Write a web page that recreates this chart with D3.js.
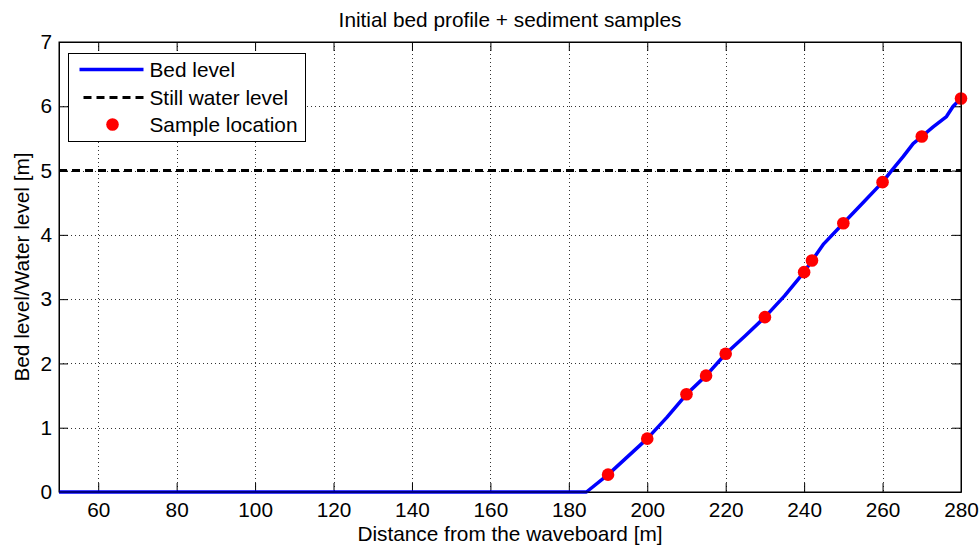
<!DOCTYPE html>
<html>
<head>
<meta charset="utf-8">
<script src="https://cdn.jsdelivr.net/npm/d3@7"></script>
<style>
  body { margin: 0; background: #fff; }
  text { font-family: "Liberation Sans", Arial, sans-serif; }
</style>
</head>
<body>
<div id="chart"></div>
<script>
// bed profile (distance [m], level [m])
const bedX = [50, 184.5, 190, 195, 200, 205, 210, 215, 220, 225, 230, 235, 240, 242, 245, 250, 255, 260, 262.3, 265.3, 267.8, 270, 272.9, 276.3, 278, 280]
const bedY = [0, 0, 0.27, 0.55, 0.83, 1.16, 1.52, 1.81, 2.15, 2.43, 2.72, 3.05, 3.42, 3.6, 3.86, 4.18, 4.5, 4.82, 5.0, 5.22, 5.42, 5.53, 5.68, 5.84, 6.0, 6.12]

// sediment samples
const sampleX = [190, 200, 210, 215, 220, 230, 240, 242, 250, 260, 270, 280]
const sampleY = [0.27, 0.83, 1.52, 1.81, 2.15, 2.72, 3.42, 3.6, 4.18, 4.82, 5.53, 6.12]

const stillWater = 5
const xTicks = [60, 80, 100, 120, 140, 160, 180, 200, 220, 240, 260, 280]
const yTicks = [0, 1, 2, 3, 4, 5, 6, 7]
const legendLabels = ["Bed level", "Still water level", "Sample location"]

const width = 980, height = 549
const margin = { top: 42, right: 19, bottom: 57, left: 59 }
const fontSize = 20.8

const svg = d3.select("#chart").append("svg")
  .attr("width", width)
  .attr("height", height)

const x = d3.scaleLinear().domain([50, 280]).range([margin.left, width - margin.right])
const y = d3.scaleLinear().domain([0, 7]).range([height - margin.bottom, margin.top])

const x0 = x.range()[0], x1 = x.range()[1]
const y0 = y.range()[0], y1 = y.range()[1]

// grid
const grid = svg.append("g").attr("stroke", "#333").attr("stroke-width", 1)
  .attr("stroke-dasharray", "1,3")
grid.selectAll("line.gx").data(xTicks).join("line")
  .attr("x1", d => Math.round(x(d)) + 0.5).attr("x2", d => Math.round(x(d)) + 0.5)
  .attr("y1", y1).attr("y2", y0)
grid.selectAll("line.gy").data(yTicks.slice(1, -1)).join("line")
  .attr("class", "gy")
  .attr("y1", d => Math.round(y(d)) + 0.5).attr("y2", d => Math.round(y(d)) + 0.5)
  .attr("x1", x0).attr("x2", x1)

// axes, ticks inside, box on all sides
const tick = 9
const fmt = d3.format("d")
svg.append("g").attr("transform", `translate(0,${y0})`)
  .call(d3.axisBottom(x).tickValues(xTicks).tickSizeInner(-tick).tickSizeOuter(0).tickPadding(10).tickFormat(fmt))
svg.append("g").attr("transform", `translate(0,${y1})`)
  .call(d3.axisTop(x).tickValues(xTicks).tickSizeInner(-tick).tickSizeOuter(0).tickFormat(""))
svg.append("g").attr("transform", `translate(${x0},0)`)
  .call(d3.axisLeft(y).tickValues(yTicks).tickSizeInner(-tick).tickSizeOuter(0).tickPadding(7).tickFormat(fmt))
svg.append("g").attr("transform", `translate(${x1},0)`)
  .call(d3.axisRight(y).tickValues(yTicks).tickSizeInner(-tick).tickSizeOuter(0).tickFormat(""))

svg.selectAll(".tick text").attr("font-size", fontSize).attr("fill", "#000")
svg.selectAll(".domain").attr("stroke", "#000")
svg.selectAll(".tick line").attr("stroke", "#000")

// still water level
svg.append("line")
  .attr("x1", x0).attr("x2", x1)
  .attr("y1", y(stillWater)).attr("y2", y(stillWater))
  .attr("stroke", "#000").attr("stroke-width", 3)
  .attr("stroke-dasharray", "8,5")

// bed level
const bed = bedX.map((d, i) => [d, bedY[i]])
svg.append("path").datum(bed)
  .attr("fill", "none").attr("stroke", "#0000ff").attr("stroke-width", 3.5)
  .attr("stroke-linejoin", "round")
  .attr("d", d3.line().x(d => x(d[0])).y(d => y(d[1])))

// samples
svg.append("g").selectAll("circle").data(sampleX).join("circle")
  .attr("cx", d => x(d))
  .attr("cy", (d, i) => y(sampleY[i]))
  .attr("r", 6.3)
  .attr("fill", "#ff0000")

// box
svg.append("rect")
  .attr("x", x0).attr("y", y1).attr("width", x1 - x0).attr("height", y0 - y1)
  .attr("fill", "none").attr("stroke", "#000")

// titles
svg.append("text").attr("x", (x0 + x1) / 2).attr("y", 27)
  .attr("text-anchor", "middle").attr("font-size", fontSize).text("Initial bed profile + sediment samples")
svg.append("text").attr("x", (x0 + x1) / 2).attr("y", 541)
  .attr("text-anchor", "middle").attr("font-size", fontSize).text("Distance from the waveboard [m]")
svg.append("text")
  .attr("transform", `translate(29,${(y0 + y1) / 2}) rotate(-90)`)
  .attr("text-anchor", "middle").attr("font-size", fontSize).text("Bed level/Water level [m]")

// legend
const lg = svg.append("g").attr("transform", "translate(68.5,53.5)")
lg.append("rect").attr("width", 237).attr("height", 88)
  .attr("fill", "#fff").attr("stroke", "#000")
const rowY = [16, 44, 71]
lg.selectAll("text").data(legendLabels).join("text")
  .attr("x", 81).attr("y", (d, i) => rowY[i] + 7.5)
  .attr("font-size", fontSize).text(d => d)
lg.append("line").attr("x1", 11).attr("x2", 75).attr("y1", rowY[0]).attr("y2", rowY[0])
  .attr("stroke", "#0000ff").attr("stroke-width", 3.5)
lg.append("line").attr("x1", 15).attr("x2", 75).attr("y1", rowY[1]).attr("y2", rowY[1])
  .attr("stroke", "#000").attr("stroke-width", 3).attr("stroke-dasharray", "8,5")
lg.append("circle").attr("cx", 44).attr("cy", rowY[2]).attr("r", 6.3).attr("fill", "#ff0000")
</script>
</body>
</html>
